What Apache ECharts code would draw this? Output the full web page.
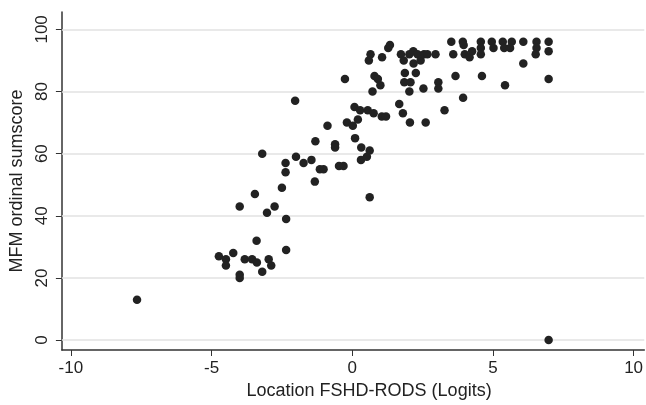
<!DOCTYPE html>
<html>
<head>
<meta charset="utf-8">
<script src="https://cdn.jsdelivr.net/npm/echarts@6/dist/echarts.min.js"></script>
<style>
  html, body { margin: 0; padding: 0; background: #fff; }
  #chart { width: 646px; height: 405px; }
</style>
</head>
<body>
<div id="chart"></div>
<script>
// location (logits) vs MFM sumscore
const locX = [
  -7.65, -4.74, -4.49, -4.49, -4.23, -4.0, -4.0, -3.82, -3.56, -3.39,
  -3.2, -2.97, -2.88, -2.35, -3.4, -2.35, -4.0, -3.03, -2.76, -3.46,
  -2.5, -3.2, -2.37, -2.37, -2.03, -2.0, -1.73, -1.45, -1.33, -1.31,
  -1.15, -1.02, -0.88, -0.61, -0.61, -0.47, -0.31, -0.26, -0.19, 0.02,
  0.08, 0.1, 0.2, 0.28, 0.32, 0.31, 0.52, 0.62, 0.62, 0.55,
  0.76, 0.65, 0.59, 0.72, 0.79, 0.91, 1.0, 1.06, 1.05, 1.2,
  1.28, 1.34, 1.67, 1.73, 1.8, 1.83, 1.87, 1.85, 2.07, 2.03,
  2.05, 2.03, 2.17, 2.32, 2.18, 2.43, 2.55, 2.67, 2.96, 2.26,
  2.53, 3.06, 3.06, 2.61, 3.28, 3.52, 3.59, 3.67, 3.93, 3.96,
  4.0, 4.17, 4.26, 3.94, 4.57, 4.57, 4.57, 4.61, 4.96, 5.02,
  5.35, 5.4, 5.43, 5.67, 5.61, 6.08, 6.08, 6.55, 6.55, 6.52,
  6.98, 6.98, 6.98, 6.98
];
const mfm = [
  13, 27, 26, 24, 28, 21, 20, 26, 26, 25,
  22, 26, 24, 29, 32, 39, 43, 41, 43, 47,
  49, 60, 54, 57, 77, 59, 57, 58, 51, 64,
  55, 55, 69, 63, 62, 56, 56, 84, 70, 69,
  75, 65, 71, 74, 62, 58, 59, 61, 46, 74,
  73, 92, 90, 80, 85, 84, 82, 91, 72, 72,
  94, 95, 76, 92, 73, 90, 86, 83, 83, 80,
  70, 92, 93, 92, 89, 90, 92, 92, 92, 86,
  81, 83, 81, 70, 74, 96, 92, 85, 96, 95,
  92, 91, 93, 78, 96, 94, 92, 85, 96, 94,
  96, 94, 82, 96, 94, 96, 89, 96, 94, 92,
  96, 93, 84, 0
];
const xTicks = [-10, -5, 0, 5, 10];
const yTicks = [0, 20, 40, 60, 80, 100];

const FONT = "Liberation Sans";
const chart = echarts.init(document.getElementById("chart"));

chart.setOption({
  animation: false,
  grid: { left: 59, right: 0, top: 12, bottom: 53, containLabel: false },
  xAxis: {
    type: "value",
    min: -10.32,
    max: 10.38,
    name: "Location FSHD-RODS (Logits)",
    nameLocation: "middle",
    nameGap: 32,
    // the original title sits a bit right of the plot centre
    nameTextStyle: { fontFamily: FONT, fontSize: 18, color: "#222", padding: [0, 0, 0, 32] },
    axisLine: { onZero: false, lineStyle: { color: "#333", width: 1.5 } },
    axisTick: { customValues: xTicks, length: 6, lineStyle: { color: "#333" } },
    axisLabel: { customValues: xTicks, margin: 10, fontFamily: FONT, fontSize: 17, color: "#222" },
    splitLine: { show: false }
  },
  yAxis: {
    type: "value",
    min: -3.2,
    max: 105.6,
    name: "MFM ordinal sumscore",
    nameLocation: "middle",
    nameRotate: 90,
    nameGap: 25,
    nameTextStyle: { fontFamily: FONT, fontSize: 18, color: "#222" },
    axisLine: { show: true, onZero: false, lineStyle: { color: "#333", width: 1.5 } },
    axisTick: { show: true, customValues: yTicks, length: 6, lineStyle: { color: "#333" } },
    axisLabel: { customValues: yTicks, rotate: 90, margin: 11, fontFamily: FONT, fontSize: 17, color: "#222" },
    splitLine: { show: false }
  },
  series: [{
    type: "scatter",
    z: 3,
    symbolSize: 8.5,
    itemStyle: { color: "#222", opacity: 1 },
    data: locX.map((x, i) => [x, mfm[i]]),
    markLine: {
      z: 1,
      silent: true,
      symbol: "none",
      label: { show: false },
      lineStyle: { color: "#e2e2e2", width: 1.5, type: "solid" },
      data: yTicks.map(v => ({ yAxis: v }))
    }
  }]
});
</script>
</body>
</html>
